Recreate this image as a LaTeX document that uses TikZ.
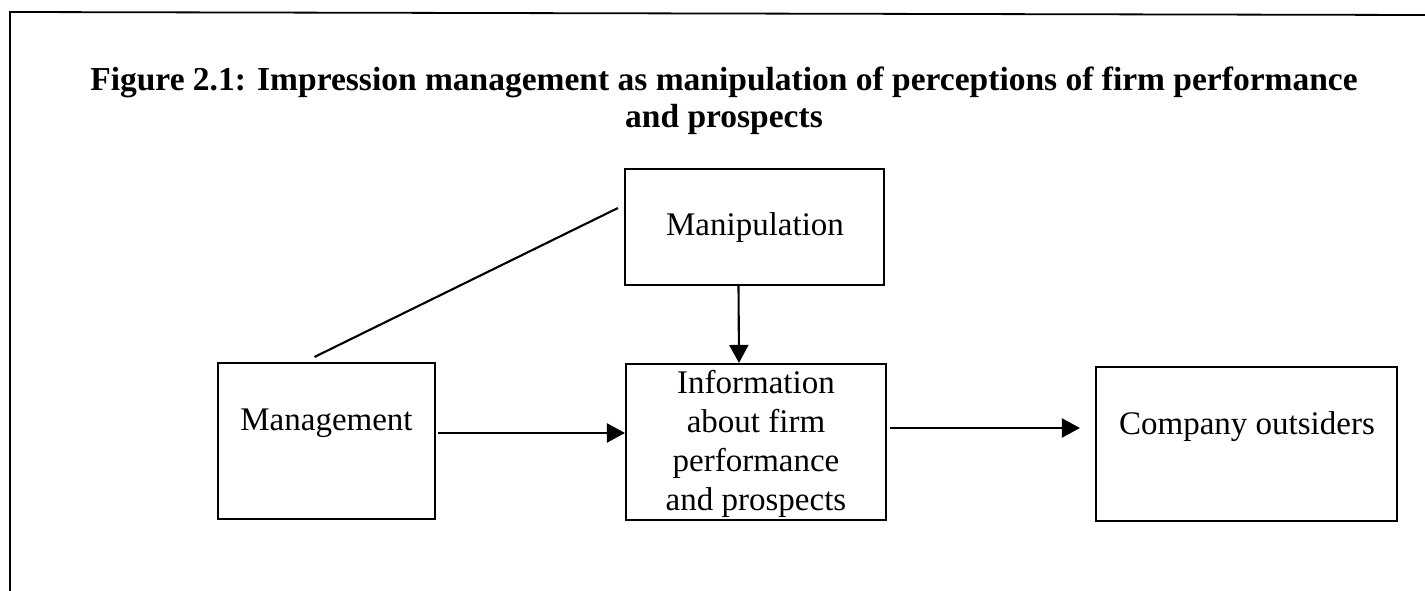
\documentclass[tikz,border=0pt]{standalone}
\usepackage{fontspec}
\setmainfont{Liberation Serif}
\usetikzlibrary{arrows.meta,calc}
\begin{document}
\begin{tikzpicture}[x=1pt,y=-1pt,
  box/.style={draw, line width=2.1pt, inner sep=0pt},
  boxtext/.style={inner sep=0pt, align=center, font=\fontsize{33}{39}\selectfont},
  link/.style={line width=2.1pt, -{Triangle[length=18pt,width=19pt]}},
  plain/.style={line width=2.1pt}]
\useasboundingbox (0,0) rectangle (1425,591);
% page frame (left and top edges)
\draw[line width=1.8pt] (10,591) -- (10,12) -- (1425,15);
% caption
\node[align=center, font=\bfseries\fontsize{33.5}{37}\selectfont] (title) at (724,101)
  {Figure 2.1: Impression management as manipulation of perceptions of firm performance\\and prospects};
% boxes
\node[box, minimum width=259pt, minimum height=116pt] (manip) at (754.5,227) {};
\node[boxtext] (maniptext) at (755,228) {Manipulation};
\node[box, minimum width=217pt, minimum height=156pt] (mgmt) at (326.5,441) {};
\node[boxtext] (mgmttext) at (326.5,423) {Management};
\node[box, minimum width=260pt, minimum height=156pt] (info) at (756,442) {};
\node[boxtext] (infotext) at (756,444) {Information\\about firm\\performance\\and prospects};
\node[box, minimum width=301pt, minimum height=154pt] (comp) at (1246.5,444) {};
\node[boxtext] (comptext) at (1247,427) {Company outsiders};
% connectors
\draw[plain] ($(mgmt.north)+(-12,-5)$) -- ($(manip.west)+(-6,-19)$);
\draw[link] ($(manip.south)+(-16,0)$) -- ($(info.north)+(-17,0)$);
\draw[link] ($(mgmt.east)+(2,-8)$) -- ($(info.west)+(0,-9)$);
\draw[link] ($(info.east)+(3,-14)$) -- ($(comp.west)+(-15,-16)$);
\end{tikzpicture}
\end{document}
